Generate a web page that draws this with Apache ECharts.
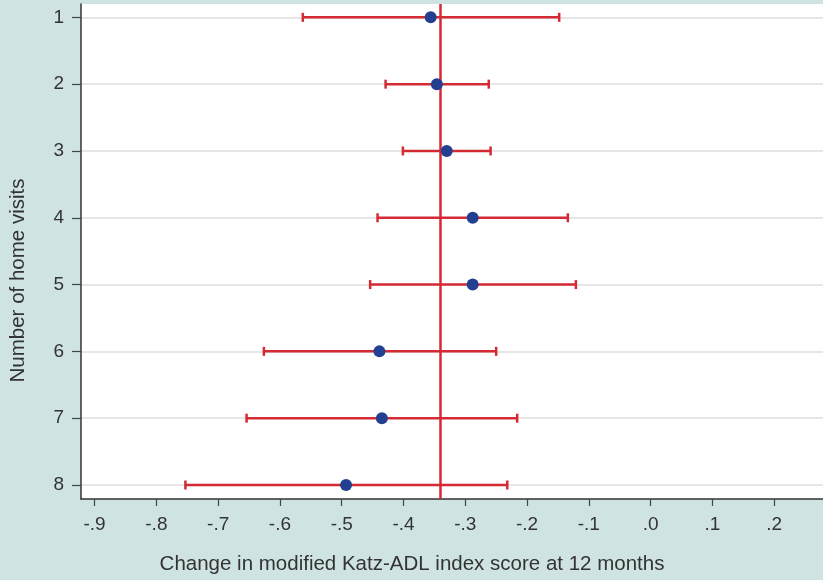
<!DOCTYPE html>
<html>
<head>
<meta charset="utf-8">
<script src="https://cdn.jsdelivr.net/npm/echarts@6/dist/echarts.min.js"></script>
<style>
  html, body { margin: 0; padding: 0; }
  #main { width: 823px; height: 580px; }
</style>
</head>
<body>
<div id="main"></div>
<script>
// number of home visits (y) and the estimate with its confidence interval (x)
const visits = [1, 2, 3, 4, 5, 6, 7, 8];
const estimate = [-0.356, -0.346, -0.330, -0.288, -0.288, -0.439, -0.435, -0.493];
const lower = [-0.563, -0.429, -0.401, -0.442, -0.454, -0.626, -0.654, -0.753];
const upper = [-0.148, -0.262, -0.259, -0.134, -0.121, -0.250, -0.216, -0.232];
const xTicks = [-0.9, -0.8, -0.7, -0.6, -0.5, -0.4, -0.3, -0.2, -0.1, 0, 0.1, 0.2];
const overallLine = -0.34;

const red = "#d42a34";
const blue = "#233f8f";
const fontFamily = "'Liberation Sans', Arial, sans-serif";

function fmtX(v) {
  return v.toFixed(1).replace("0.", ".");
}

const chart = echarts.init(document.getElementById("main"));

const option = {
  backgroundColor: "#cfe3e3",
  animation: false,
  grid: {
    left: 80,
    right: 0,
    top: 4,
    bottom: 81,
    show: true,
    backgroundColor: "#ffffff",
    borderWidth: 0
  },
  xAxis: {
    type: "value",
    min: -0.922,
    max: 0.279,
    name: "Change in modified Katz-ADL index score at 12 months",
    nameLocation: "middle",
    nameGap: 55,
    // titles are centred on the whole figure, not on the plot
    nameTextStyle: { fontSize: 20.5, color: "#333", fontFamily: fontFamily, padding: [0, 80, 0, 0] },
    axisLine: { show: true, onZero: false, lineStyle: { color: "#333", width: 1.5 } },
    axisTick: { show: true, length: 7, customValues: xTicks, lineStyle: { color: "#444", width: 1.2 } },
    axisLabel: {
      customValues: xTicks,
      formatter: fmtX,
      fontSize: 19,
      color: "#333",
      fontFamily: fontFamily,
      margin: 16
    },
    splitLine: { show: false }
  },
  yAxis: {
    type: "value",
    inverse: true,
    min: 0.8,
    max: 8.21,
    name: "Number of home visits",
    nameLocation: "middle",
    nameGap: 52,
    nameTextStyle: { fontSize: 20.5, color: "#333", fontFamily: fontFamily, padding: [0, 58, 0, 0] },
    axisLine: { show: true, onZero: false, lineStyle: { color: "#333", width: 1.5 } },
    axisTick: { show: true, length: 9, customValues: visits, lineStyle: { color: "#444", width: 1.2 } },
    axisLabel: {
      customValues: visits,
      fontSize: 19,
      color: "#333",
      fontFamily: fontFamily,
      margin: 17
    },
    splitLine: { show: true, lineStyle: { color: "#e6e6e6", width: 2 } }
  },
  series: [
    {
      type: "custom",
      name: "CI",
      data: visits.map((v, i) => [lower[i], upper[i], v]),
      encode: { x: [0, 1], y: 2 },
      renderItem: function (params, api) {
        const lo = api.coord([api.value(0), api.value(2)]);
        const hi = api.coord([api.value(1), api.value(2)]);
        const cap = 4.5;
        const style = { stroke: red, lineWidth: 2.5 };
        return {
          type: "group",
          children: [
            { type: "line", shape: { x1: lo[0], y1: lo[1], x2: hi[0], y2: hi[1] }, style: style },
            { type: "line", shape: { x1: lo[0], y1: lo[1] - cap, x2: lo[0], y2: lo[1] + cap }, style: style },
            { type: "line", shape: { x1: hi[0], y1: hi[1] - cap, x2: hi[0], y2: hi[1] + cap }, style: style }
          ]
        };
      },
      z: 2
    },
    {
      type: "scatter",
      name: "Estimate",
      data: visits.map((v, i) => [estimate[i], v]),
      symbol: "circle",
      symbolSize: 12,
      itemStyle: { color: blue, opacity: 1 },
      z: 4,
      markLine: {
        silent: true,
        symbol: "none",
        label: { show: false },
        lineStyle: { color: red, width: 2.5, type: "solid" },
        data: [{ xAxis: overallLine }],
        z: 3
      }
    }
  ]
};

chart.setOption(option);
</script>
</body>
</html>
